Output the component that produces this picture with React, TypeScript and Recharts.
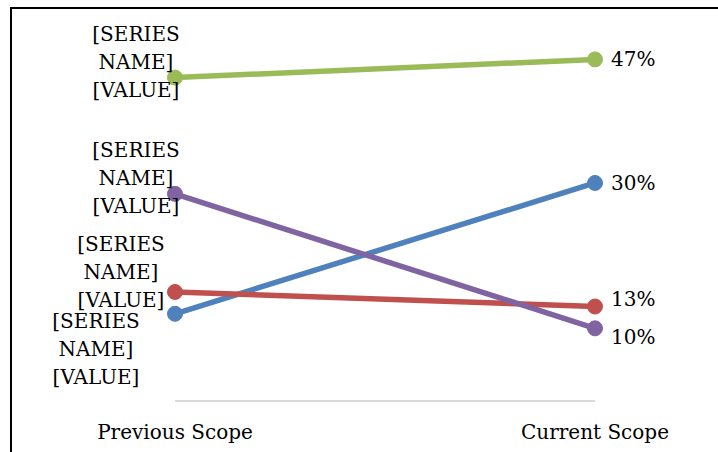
import { LineChart, Line, XAxis, YAxis, LabelList } from 'recharts';

const scopes = ['Previous Scope', 'Current Scope'];
const seriesKeys = ['s1', 's2', 's3', 's4'];
const seriesColors = ['#4F81BD', '#C0504D', '#9BBB59', '#8064A2'];
const s1Values = [0.12, 0.30];
const s2Values = [0.15, 0.13];
const s3Values = [0.445, 0.47];
const s4Values = [0.285, 0.10];

const data = scopes.map((scope, i) => ({
  scope,
  s1: s1Values[i],
  s2: s2Values[i],
  s3: s3Values[i],
  s4: s4Values[i],
}));

// label placement, roughly as Excel nudged them
const leftLabelPos = [
  { dx: -79, dy: 7 },
  { dx: -54, dy: -48 },
  { dx: -39, dy: -44 },
  { dx: -39, dy: -44 },
];
const rightLabelDy = [0, -8, 0, 9];

const FONT = '"DejaVu Serif", serif';

function makeLabel(idx: number) {
  return (props: any) => {
    const { x, y, value, index } = props;
    if (index === 0) {
      const p = leftLabelPos[idx];
      const lines = ['[SERIES', 'NAME]', '[VALUE]'];
      return (
        <text
          x={x + p.dx}
          y={y + p.dy}
          textAnchor="middle"
          fontFamily={FONT}
          fontSize={20}
          fill="#000"
        >
          {lines.map((l, i) => (
            <tspan key={i} x={x + p.dx} dy={i === 0 ? '0.35em' : 28}>
              {l}
            </tspan>
          ))}
        </text>
      );
    }
    return (
      <text
        x={x + 16}
        y={y + rightLabelDy[idx]}
        dy="0.35em"
        textAnchor="start"
        fontFamily={FONT}
        fontSize={20}
        fill="#000"
      >
        {Math.round(value * 100) + '%'}
      </text>
    );
  };
}

export default function App() {
  return (
    <div style={{ position: 'fixed', left: 0, top: 0, width: 718, height: 452, overflow: 'hidden', background: '#fff' }}>
      <div
        style={{
          position: 'absolute',
          left: 10,
          top: 7,
          width: 800,
          height: 600,
          borderLeft: '2px solid #000',
          borderTop: '2px solid #000',
        }}
      />
      <LineChart
        width={718}
        height={452}
        data={data}
        margin={{ top: 37.6, right: 123, bottom: 0, left: 175 }}
        style={{ position: 'absolute', left: 0, top: 0 }}
      >
        <XAxis
          dataKey="scope"
          height={51}
          axisLine={{ stroke: '#D9D9D9', strokeWidth: 2 }}
          tickLine={false}
          tickMargin={18}
          interval={0}
          tick={{ fill: '#000', fontFamily: FONT, fontSize: 20 }}
        />
        <YAxis hide domain={[0, 0.5]} />
        {seriesKeys.map((key, idx) => (
          <Line
            key={key}
            dataKey={key}
            stroke={seriesColors[idx]}
            strokeWidth={5.5}
            dot={{ r: 7.5, fill: seriesColors[idx], stroke: seriesColors[idx], strokeWidth: 1 }}
            isAnimationActive={false}
          >
            <LabelList dataKey={key} content={makeLabel(idx)} />
          </Line>
        ))}
      </LineChart>
    </div>
  );
}
